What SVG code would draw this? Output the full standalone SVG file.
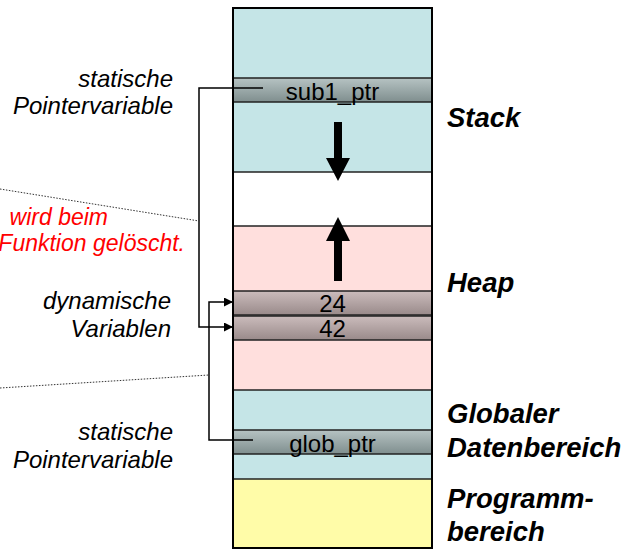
<svg xmlns="http://www.w3.org/2000/svg" width="630" height="550" viewBox="0 0 630 550">
<style>
.lbl{font-family:"Liberation Sans",Arial,sans-serif;font-style:italic;font-size:24px;fill:#000}
.red{fill:#ff0000;font-size:23px}
.big{font-family:"Liberation Sans",Arial,sans-serif;font-style:italic;font-weight:bold;font-size:27.5px;fill:#000}
.cell{font-family:"Liberation Sans",Arial,sans-serif;font-size:24px;fill:#000;text-anchor:middle}
.sep{stroke:#222;stroke-width:1.5}
.con{fill:none;stroke:#000;stroke-width:1.5}
.dot{fill:none;stroke:#333;stroke-width:1;stroke-dasharray:1.5,1.5}
</style>
<defs>
<linearGradient id="gGray" x1="0" y1="0" x2="0" y2="1">
<stop offset="0" stop-color="#b6c3c3"/>
<stop offset="1" stop-color="#7f8e8e"/>
</linearGradient>
<linearGradient id="gBrown" x1="0" y1="0" x2="0" y2="1">
<stop offset="0" stop-color="#cbbcbc"/>
<stop offset="1" stop-color="#998a8a"/>
</linearGradient>
<marker id="ah" viewBox="0 0 10 10" refX="10" refY="5" markerWidth="10" markerHeight="9" markerUnits="userSpaceOnUse" orient="auto">
<path d="M0,0 L10,5 L0,10 Z" fill="#000"/>
</marker>
</defs>

<g id="memory">
<rect x="233" y="8" width="199" height="70" fill="#c5e5e7"/>
<rect x="233" y="102" width="199" height="70" fill="#c5e5e7"/>
<rect x="233" y="172" width="199" height="54" fill="#ffffff"/>
<rect x="233" y="226" width="199" height="65" fill="#ffdfdd"/>
<rect x="233" y="340" width="199" height="50" fill="#ffdfdd"/>
<rect x="233" y="390" width="199" height="40" fill="#c5e5e7"/>
<rect x="233" y="454" width="199" height="25" fill="#c5e5e7"/>
<rect x="233" y="479" width="199" height="69" fill="#fffca8"/>
<line class="sep" x1="233" y1="172" x2="432" y2="172"/>
<line class="sep" x1="233" y1="226" x2="432" y2="226"/>
<line class="sep" x1="233" y1="390" x2="432" y2="390"/>
<line class="sep" x1="233" y1="479" x2="432" y2="479"/>
</g>

<g id="sub1_ptr">
<rect x="233" y="78" width="199" height="24" fill="url(#gGray)" class="sep"/>
<text class="cell" x="332.5" y="100">sub1_ptr</text>
</g>
<g id="val24">
<rect x="233" y="291" width="199" height="24" fill="url(#gBrown)" class="sep"/>
<text class="cell" x="332.5" y="312">24</text>
</g>
<g id="val42">
<rect x="233" y="316" width="199" height="24" fill="url(#gBrown)" class="sep"/>
<text class="cell" x="332.5" y="337">42</text>
</g>
<g id="glob_ptr">
<rect x="233" y="430" width="199" height="24" fill="url(#gGray)" class="sep"/>
<text class="cell" x="332.5" y="452">glob_ptr</text>
</g>

<g id="outline">
<rect x="233" y="8" width="199" height="540" fill="none" stroke="#000" stroke-width="2"/>
</g>

<g id="growth-arrows">
<path d="M334,122 H342 V158 H350 L338,181 L326,158 H334 Z" fill="#000"/>
<path d="M334,281 H342 V241 H350 L338,217 L326,241 H334 Z" fill="#000"/>
</g>

<g id="connectors">
<polyline class="con" points="263,88 199,88 199,327 233,327" marker-end="url(#ah)"/>
<polyline class="con" points="253,440 209,440 209,302 233,302" marker-end="url(#ah)"/>
<line class="dot" x1="0" y1="189" x2="199" y2="221"/>
<line class="dot" x1="0" y1="388" x2="209" y2="375"/>
</g>

<g id="left-labels">
<text class="lbl" x="173" y="87" text-anchor="end">statische</text>
<text class="lbl" x="173" y="114" text-anchor="end">Pointervariable</text>
<text class="lbl red" x="108" y="225" text-anchor="end">wird beim</text>
<text class="lbl red" x="185" y="251" text-anchor="end">Funktion gelöscht.</text>
<text class="lbl" x="171" y="309" text-anchor="end">dynamische</text>
<text class="lbl" x="171" y="337" text-anchor="end">Variablen</text>
<text class="lbl" x="173" y="440" text-anchor="end">statische</text>
<text class="lbl" x="173" y="468" text-anchor="end">Pointervariable</text>
</g>

<g id="right-labels">
<text class="big" x="447" y="127">Stack</text>
<text class="big" x="447" y="292">Heap</text>
<text class="big" x="447" y="423">Globaler</text>
<text class="big" x="447" y="457">Datenbereich</text>
<text class="big" x="447" y="508">Programm-</text>
<text class="big" x="447" y="541">bereich</text>
</g>
</svg>
